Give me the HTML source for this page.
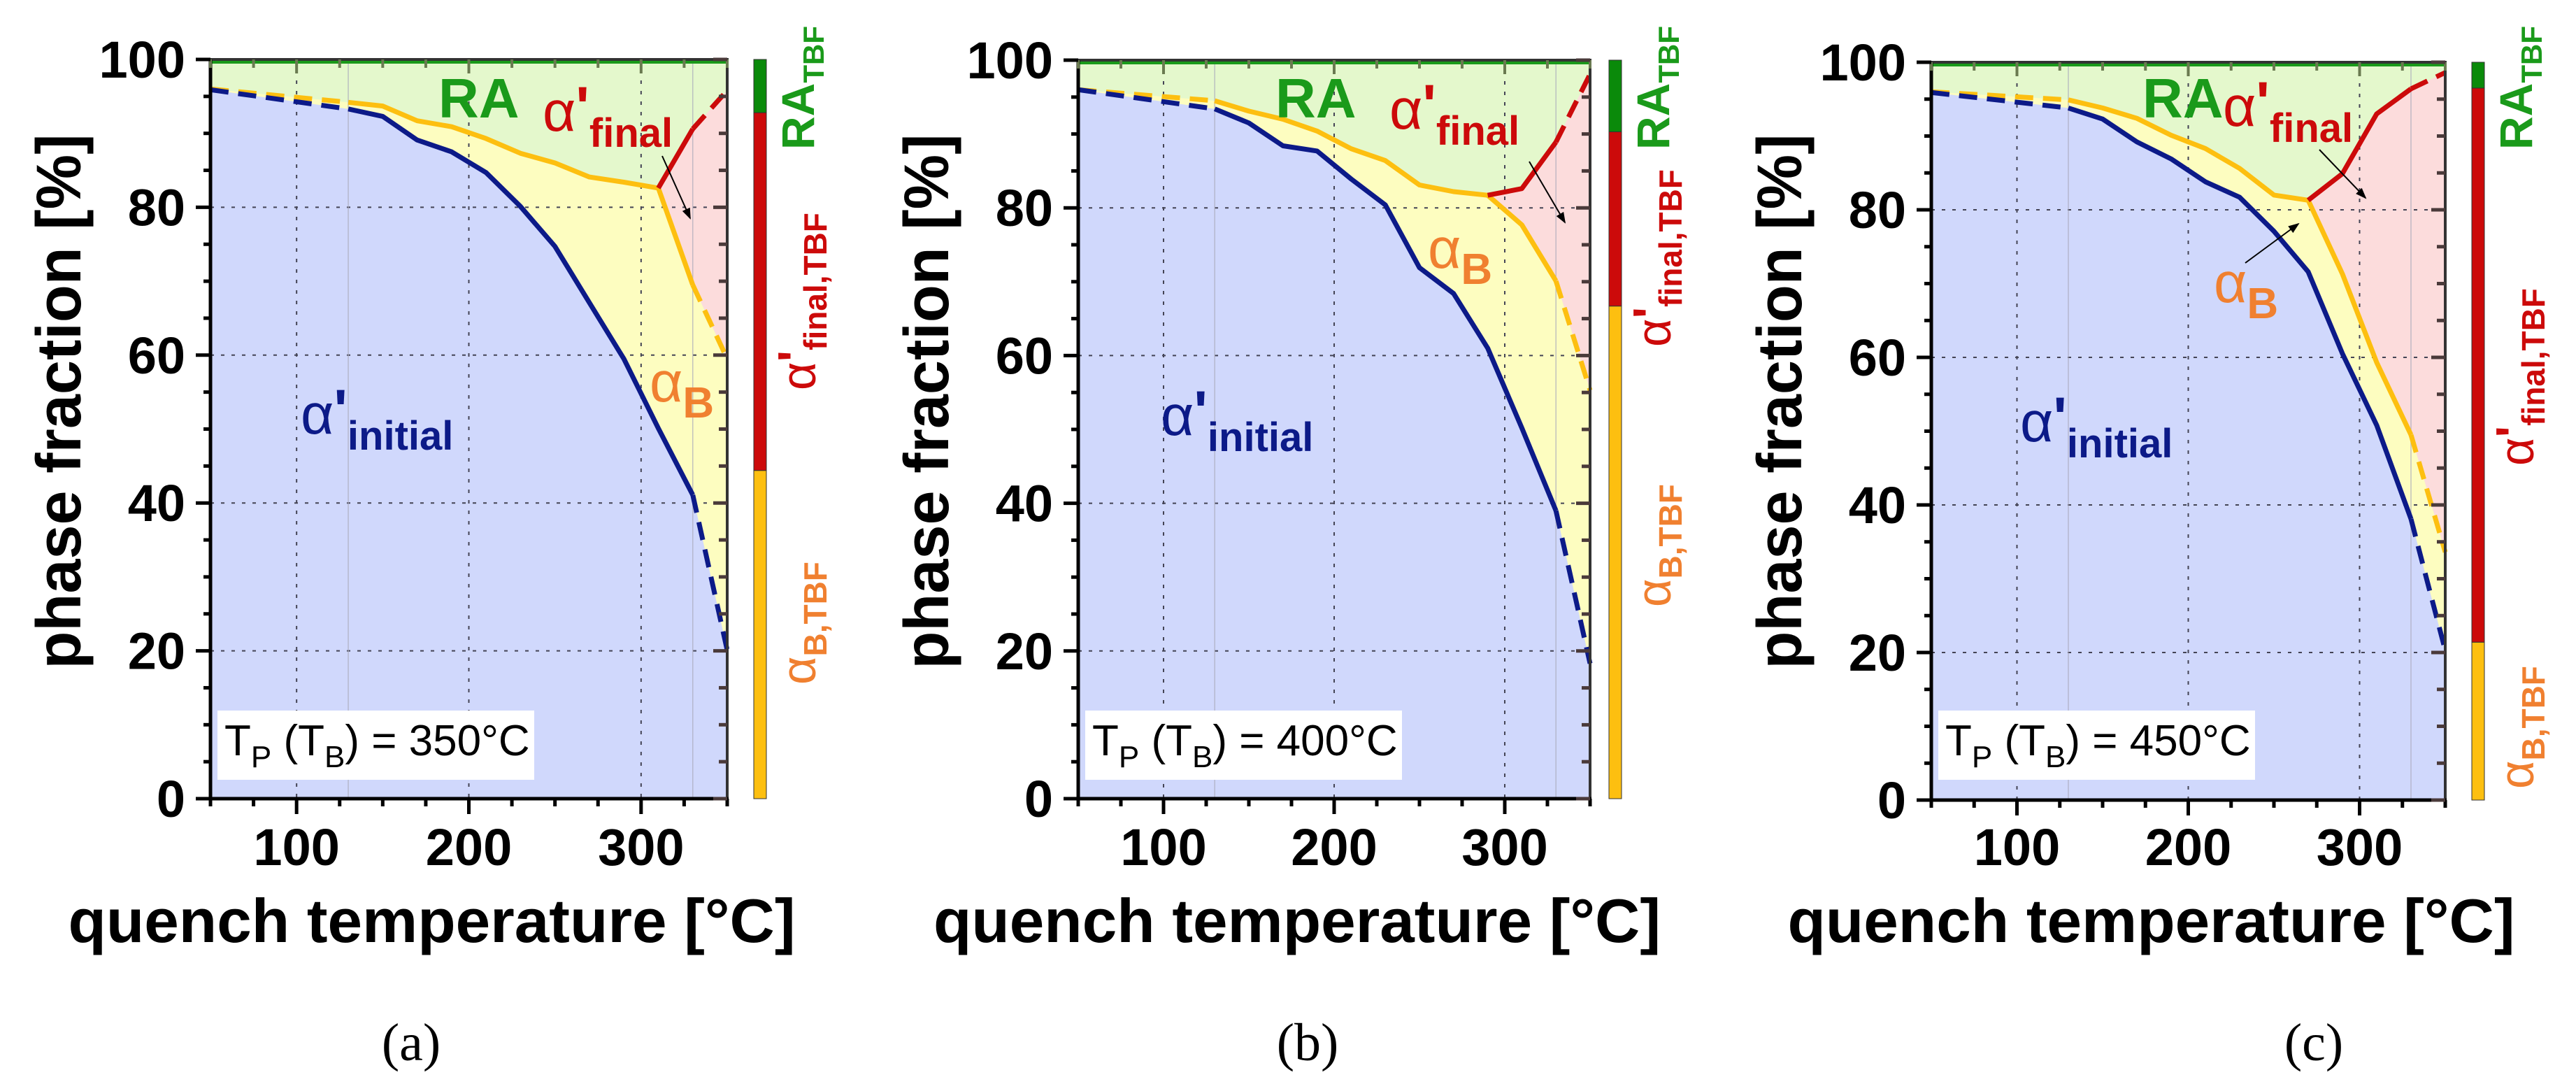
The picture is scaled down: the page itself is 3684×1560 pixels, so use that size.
<!DOCTYPE html>
<html><head><meta charset="utf-8"><style>
html,body{margin:0;padding:0;background:#fff;}
svg{display:block;}
text{font-family:"Liberation Sans",Arial,sans-serif;}
text.serif{font-family:"Liberation Serif","Times New Roman",serif;}
</style></head><body>
<svg id="fig" width="3684" height="1560" viewBox="0 0 3684 1560" xmlns="http://www.w3.org/2000/svg"></svg>
<script>
// ---------- data ----------
const tempsShared = [50,130,150,170,190,210,230,250,270,290,310,330,350];
const xTicks = [100,200,300];
const yTicks = [0,20,40,60,80,100];

const blueA   = [95.9,93.3,92.3,89.1,87.5,84.7,80.1,74.7,67.1,59.5,50.1,41.1,20.1];
const yellowA = [96,94.2,93.7,91.7,90.9,89.3,87.3,86,84.1,83.4,82.6,69.5,59.5];
const redTempsA = [310,330,350];
const redA    = [82.6,90.6,95.8];
const barA    = [44.4,92.8,100];

const blueB   = [96,93.4,91.5,88.4,87.7,83.9,80.4,71.9,68.4,61,50.2,39,18.3];
const yellowB = [96,94.5,93.1,92,90.4,88,86.4,83.1,82.2,81.7,77.7,70.1,55.3];
const redTempsB = [290,310,330,350];
const redB    = [81.7,82.6,88.9,98.1];
const barB    = [66.7,90.3,100];

const blueC   = [95.9,93.8,92.3,89.2,86.9,83.8,81.7,77.1,71.6,60.5,50.8,38.1,20.3];
const yellowC = [96,94.9,93.8,92.4,90.1,88.3,85.6,82,81.3,71.3,59.3,49.5,33.6];
const redTempsC = [270,290,310,330,350];
const redC    = [81.3,84.9,93,96.4,98.6];
const barC    = [21.4,96.5,100];

const tempLabels = ['350','400','450'];
const captions = ['(a)','(b)','(c)'];

// ---------- drawing ----------
const NS='http://www.w3.org/2000/svg';
const svg=document.getElementById('fig');
function mk(tag,attrs,parent){const e=document.createElementNS(NS,tag);for(const k in attrs)e.setAttribute(k,attrs[k]);(parent||svg).appendChild(e);return e;}

const panels=[
 {id:'a',x0:301,x1:1040,yT:85,yB:1142,cb:1078,blue:blueA,yellow:yellowA,rt:redTempsA,red:redA,bar:barA,
  ra:[627,168],af:[776,187],ab:[929,574],ai:[430,620],cap:588,lab:[214,558,979],arrows:[[947,223,987,312]]},
 {id:'b',x0:1542,x1:2274,yT:86,yB:1142,cb:2301,blue:blueB,yellow:yellowB,rt:redTempsB,red:redB,bar:barB,
  ra:[1824,168],af:[1987,184],ab:[2042,383],ai:[1660,622],cap:1870,lab:[214,496,868],arrows:[[2187,231,2238,318]]},
 {id:'c',x0:2762,x1:3497,yT:89,yB:1144,cb:3535,blue:blueC,yellow:yellowC,rt:redTempsC,red:redC,bar:barC,
  ra:[3064,168],af:[3179,180],ab:[3166,432],ai:[2889,631],cap:3309,lab:[214,666,1128],arrows:[[3211,376,3287,320],[3317,214,3383,283]]}
];

const defs=mk('defs',{});
const mrk=mk('marker',{id:'arr',markerWidth:'8',markerHeight:'8',refX:'7',refY:'4',orient:'auto',markerUnits:'strokeWidth'},defs);
mk('path',{d:'M0,1 L8,4 L0,7 Z',fill:'#000'},mrk);

panels.forEach((p,pi)=>{
  const g=mk('g',{});
  
  
  const X=t=>p.x0+(t-50)/300*(p.x1-p.x0);
  const Y=v=>p.yB-v/100*(p.yB-p.yT);
  const pts=(ts,vs)=>ts.map((t,i)=>X(t).toFixed(1)+','+Y(vs[i]).toFixed(1));

  const bg=mk('rect',{x:p.x0,y:p.yT,width:p.x1-p.x0,height:p.yB-p.yT,fill:'#e4f8cc'},g);
  
  
  const i0=tempsShared.indexOf(p.rt[0]);
  const ySub=p.yellow.slice(i0), tSub=tempsShared.slice(i0);
  const pinkPts=pts(p.rt,p.red).concat(pts(tSub,ySub).reverse());
  const pink=mk('polygon',{points:pinkPts.join(' '),fill:'#fcdcdc'},g);
  
  
  const yl=mk('polygon',{points:pts(tempsShared,p.yellow).join(' ')+' '+X(350)+','+p.yB+' '+X(50)+','+p.yB,fill:'#fdfdc0'},g);
  
  
  const bl=mk('polygon',{points:pts(tempsShared,p.blue).join(' ')+' '+X(350)+','+p.yB+' '+X(50)+','+p.yB,fill:'#d0d8fc'},g);
  
  

  xTicks.forEach(t=>{
    const l=mk('line',{x1:X(t),x2:X(t),y1:p.yT,y2:p.yB,stroke:'#445',
      'stroke-width':2,'stroke-dasharray':'5,10'},g);
    
    
  });
  yTicks.slice(1,5).forEach(v=>{
    const l=mk('line',{x1:p.x0,x2:p.x1,y1:Y(v),y2:Y(v),stroke:'#445',
      'stroke-width':2,'stroke-dasharray':'5,10'},g);
    
    
  });
  [130,330].forEach(t=>{
    const l=mk('line',{x1:X(t),x2:X(t),y1:p.yT,y2:p.yB,stroke:'#aab','stroke-width':1.5,opacity:0.7},g);
    
    
  });

  function series(ts,vs,color,name){
    const n=ts.length;
    for(let i=0;i<n-1;i++){
      const dashed=(name!=='red-line'&&i===0)||i===n-2;
      if(!dashed) continue;
      const s=mk('line',{x1:X(ts[i]),y1:Y(vs[i]),x2:X(ts[i+1]),y2:Y(vs[i+1]),stroke:color,
        'stroke-width':7,'stroke-dasharray':'26,14'},g);
      
      
    }
    const solidPts=name==='red-line'?pts(ts.slice(0,n-1),vs.slice(0,n-1)):pts(ts.slice(1,n-1),vs.slice(1,n-1));
    const pl=mk('polyline',{points:solidPts.join(' '),fill:'none',stroke:color,'stroke-width':7,'stroke-linejoin':'round'},g);
    
    
  }
  series(tempsShared,p.yellow,'#fdbf10','yellow-line');
  series(tempsShared,p.blue,'#0c1a88','blue-line');
  series(p.rt,p.red,'#cc0a0a','red-line');
  const topL=mk('line',{x1:p.x0,x2:p.x1,y1:p.yT+3,y2:p.yT+3,stroke:'#1a9a1a','stroke-width':6},g);
  
  

  const fr=mk('rect',{x:p.x0,y:p.yT,width:p.x1-p.x0,height:p.yB-p.yT,fill:'none',stroke:'#333','stroke-width':4},g);
  
  
  const la=mk('line',{x1:p.x0,x2:p.x0,y1:p.yT,y2:p.yB+2,stroke:'#000','stroke-width':5},g);
  
  
  const ba=mk('line',{x1:p.x0-2,x2:p.x1+2,y1:p.yB,y2:p.yB,stroke:'#000','stroke-width':5},g);
  
  

  for(let t=50;t<=350;t+=25){
    const major=t%100===0;
    const tk=mk('line',{x1:X(t),x2:X(t),y1:p.yB,y2:p.yB+(major?22:11),stroke:'#000','stroke-width':5},g);
    
    
    const tt=mk('line',{x1:X(t),x2:X(t),y1:p.yT,y2:p.yT+(major?20:12),stroke:'#6a7a50','stroke-width':4},g);
    
    
  }
  for(let v=0;v<=100;v+=5){
    const major=v%20===0;
    const tk=mk('line',{x1:p.x0-(major?21:10),x2:p.x0,y1:Y(v),y2:Y(v),stroke:'#000','stroke-width':5},g);
    
    
    const tr=mk('line',{x1:p.x1-(major?20:12),x2:p.x1,y1:Y(v),y2:Y(v),stroke:'#4a3a3a','stroke-width':5},g);
    
    
  }
  xTicks.forEach(t=>{
    const tl=mk('text',{x:X(t),y:1237,'font-size':74,'font-weight':'bold','text-anchor':'middle'},g);
    tl.textContent=t;
    
    
  });
  yTicks.forEach(v=>{
    const tl=mk('text',{x:p.x0-36,y:Y(v)+26,'font-size':74,'font-weight':'bold','text-anchor':'end'},g);
    tl.textContent=v;
    
    
  });

  const xt=mk('text',{x:(p.x0+p.x1)/2-53,y:1347,'font-size':88,'font-weight':'bold','text-anchor':'middle',textLength:1040,lengthAdjust:'spacingAndGlyphs'},g);
  xt.textContent='quench temperature [°C]';
  
  
  const yt=mk('text',{x:0,y:0,'font-size':90,'font-weight':'bold','text-anchor':'middle',textLength:765,lengthAdjust:'spacingAndGlyphs',
    transform:'translate('+(p.x0-186)+',574) rotate(-90)'},g);
  yt.textContent='phase fraction [%]';
  
  

  const cp=mk('text',{x:p.cap,y:1516,'font-size':76,'text-anchor':'middle','class':'serif'},g);
  cp.textContent=captions[pi];
  
  

  const bx=mk('rect',{x:p.x0+10,y:1016,width:453,height:99,fill:'#fff'},g);
  
  
  const btx=mk('text',{x:p.x0+20,y:1080,'font-size':62},g);
  btx.innerHTML='T<tspan font-size="44" dy="17">P</tspan><tspan dy="-17"> (T</tspan><tspan font-size="44" dy="17">B</tspan><tspan dy="-17">) = '+tempLabels[pi]+'°C</tspan>';
  
  

  const ra=mk('text',{x:p.ra[0],y:p.ra[1],'font-size':80,'font-weight':'bold',fill:'#1a9a1a'},g);
  ra.textContent='RA';
  
  
  const af=mk('text',{x:p.af[0],y:p.af[1],'font-size':82,fill:'#cc0a0a'},g);
  af.innerHTML='α<tspan font-weight="bold" dy="-6">\'</tspan><tspan font-size="58" font-weight="bold" dy="29">final</tspan>';
  
  
  const ab=mk('text',{x:p.ab[0],y:p.ab[1],'font-size':82,fill:'#f08030'},g);
  ab.innerHTML='α<tspan font-size="62" font-weight="bold" dy="23">B</tspan>';
  
  
  const ai=mk('text',{x:p.ai[0],y:p.ai[1],'font-size':82,fill:'#0c1a88'},g);
  ai.innerHTML='α<tspan font-weight="bold" dy="-6">\'</tspan><tspan font-size="58" font-weight="bold" dy="29">initial</tspan>';
  
  
  p.arrows.forEach(a=>{
    const ar=mk('line',{x1:a[0],y1:a[1],x2:a[2],y2:a[3],stroke:'#000','stroke-width':2,'marker-end':'url(#arr)'},g);
    
    
  });

  const CY=v=>p.yB-v/100*(p.yB-p.yT);
  const segs=[[0,p.bar[0],'#fdbf10','bar-bainite'],[p.bar[0],p.bar[1],'#cc0a0a','bar-alpha-final'],[p.bar[1],p.bar[2],'#0a8a0a','bar-ra']];
  segs.forEach(s=>{
    const r=mk('rect',{x:p.cb,y:CY(s[1]),width:18,height:CY(s[0])-CY(s[1]),fill:s[2],stroke:'#333','stroke-width':1},g);
    
    
  });
  const bxp=p.cb+86;
  const l1=mk('text',{x:0,y:0,'font-size':66,'font-weight':'bold',fill:'#1a9a1a',transform:'translate('+bxp+','+p.lab[0]+') rotate(-90)'},g);
  l1.innerHTML='RA<tspan font-size="42" dy="14">TBF</tspan>';
  
  
  const l2=mk('text',{x:0,y:0,'font-size':70,fill:'#cc0a0a',transform:'translate('+(bxp+2)+','+p.lab[1]+') rotate(-90)'},g);
  l2.innerHTML='α<tspan font-weight="bold" dy="-5">\'</tspan><tspan font-size="46" font-weight="bold" dy="21">final,TBF</tspan>';
  
  
  const l3=mk('text',{x:0,y:0,'font-size':70,fill:'#f08030',transform:'translate('+(bxp+2)+','+p.lab[2]+') rotate(-90)'},g);
  l3.innerHTML='α<tspan font-size="46" font-weight="bold" dy="16">B,TBF</tspan>';
  
  
});
</script>
</body></html>
